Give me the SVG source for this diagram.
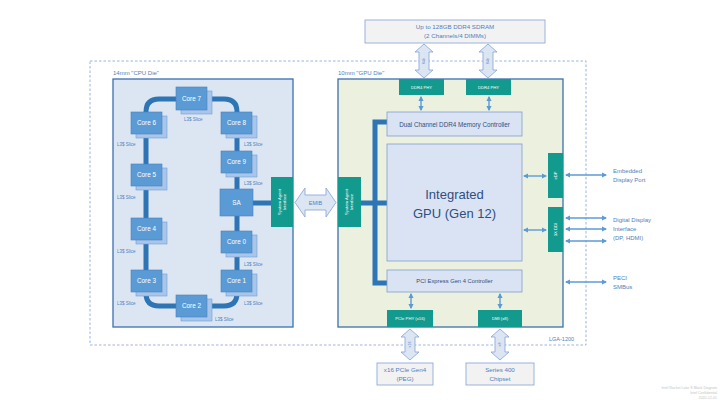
<svg xmlns="http://www.w3.org/2000/svg" width="721" height="406" viewBox="0 0 721 406">
<defs>
<style>
text{font-family:"Liberation Sans","Open Sans",sans-serif}
.lbl{fill:#4f81bd;font-size:6px}
.sl{fill:#4f81bd;font-size:4.5px}
.core{fill:#5b9bd5;stroke:#4a7fc0;stroke-width:0.6}
.shd{fill:#a9c6ea;stroke:#6f9dd6;stroke-width:0.6}
.ct{fill:#fff;font-size:6.3px;text-anchor:middle}
.teal{fill:#139a8e}
.tt{fill:#fff;font-size:4.2px;text-anchor:middle}
.ctl{fill:#dae3f3;stroke:#7f9fcf;stroke-width:0.8}
.ctt{fill:#2f4f7f;font-size:6.3px;text-anchor:middle}
.big{fill:#2f4f7f;font-size:13px;text-anchor:middle}
.ext{fill:#f2f2f2;stroke:#8eaadb;stroke-width:0.9}
.et{fill:#4f81bd;font-size:6.2px;text-anchor:middle}
.hol{fill:#dce6f2;stroke:#8eaadb;stroke-width:0.9}
.ht{fill:#4f81bd;font-size:3.6px;text-anchor:middle}
.wm{fill:#c4c4c4;font-size:3.6px;text-anchor:end}
.ring{fill:none;stroke:#2e75b6;stroke-width:5}
.lk{fill:none;stroke:#5b9bd5;stroke-width:1.4;marker-start:url(#ah);marker-end:url(#ah)}
</style>
<marker id="ah" viewBox="0 0 10 10" refX="8" refY="5" markerWidth="4" markerHeight="4" orient="auto-start-reverse"><path d="M0,0 L10,5 L0,10 z" fill="#5b9bd5"/></marker>
</defs>
<rect width="721" height="406" fill="#fff"/>

<!-- package outline -->
<g id="package">
<rect x="90" y="61" width="496" height="284" fill="none" stroke="#8eaadb" stroke-width="0.9" stroke-dasharray="2.5,2"/>
<text x="549" y="341" class="lbl" style="font-size:5.5px">LGA-1200</text>
</g>

<!-- external memory -->
<g id="dram">
<rect x="365" y="20" width="180" height="23" class="ext"/>
<text x="455" y="29" class="et">Up to 128GB DDR4 SDRAM</text>
<text x="455" y="38" class="et">(2 Channels/4 DIMMs)</text>
</g>

<!-- CPU die -->
<g id="cpu-die">
<text x="113" y="75" class="lbl">14mm "CPU Die"</text>
<rect x="113" y="79" width="180" height="248" fill="#dce6f2" stroke="#3a70b0" stroke-width="1.3"/>
</g>

<!-- GPU die -->
<g id="gpu-die">
<text x="338" y="75" class="lbl">10mm "GPU Die"</text>
<rect x="338" y="79" width="225" height="248" fill="#ebf1de" stroke="#3a70b0" stroke-width="1.3"/>
</g>

<!-- connectors -->
<g id="connectors">
<path class="ring" d="M146,125 L146,112 Q146,99 159,99 L224,99 Q237,99 237,112 L237,293 Q237,306 224,306 L159,306 Q146,306 146,293 Z"/>
<path class="ring" d="M253,203 L271,203"/>
<path class="ring" d="M387,122 L375,122 L375,283 L387,283 M361,203 L387,203"/>
<path class="lk" d="M421,97 L421,110"/>
<path class="lk" d="M489,97 L489,110"/>
<path class="lk" d="M411,294 L411,308"/>
<path class="lk" d="M500,294 L500,308"/>
<path class="lk" d="M524,176 L546,176"/>
<path class="lk" d="M524,230 L546,230"/>
<path class="lk" d="M566,175 L606,175"/>
<path class="lk" d="M566,218 L606,218"/>
<path class="lk" d="M566,229 L606,229"/>
<path class="lk" d="M566,241 L606,241"/>
<path class="lk" d="M566,282 L606,282"/>
<!-- hollow bus arrows -->
<path class="hol" d="M424,44 L433,52 L429,52 L429,70 L433,70 L424,78 L415,70 L419,70 L419,52 L415,52 Z"/>
<text transform="translate(425.3,61) rotate(-90)" class="ht">64b</text>
<path class="hol" d="M488,44 L497,52 L493,52 L493,70 L497,70 L488,78 L479,70 L483,70 L483,52 L479,52 Z"/>
<text transform="translate(489.3,61) rotate(-90)" class="ht">64b</text>
<path class="hol" d="M410,329 L419,337 L415,337 L415,352 L419,352 L410,360 L401,352 L405,352 L405,337 L401,337 Z"/>
<text transform="translate(411.3,344.5) rotate(-90)" class="ht">x16</text>
<path class="hol" d="M500,329 L509,337 L505,337 L505,352 L509,352 L500,360 L491,352 L495,352 L495,337 L491,337 Z"/>
<text transform="translate(501.3,344.5) rotate(-90)" class="ht">x8</text>
<path class="hol" d="M295,202.5 L305,188 L305,195 L326,195 L326,188 L336,202.5 L326,217 L326,210 L305,210 L305,217 Z"/>
<text x="315.5" y="204.5" class="et" style="font-size:5.5px">EMIB</text>
</g>

<!-- cores -->
<g id="core7"><rect x="181" y="91" width="31" height="23" class="shd"/><rect x="176" y="87" width="31" height="23" class="core"/><text x="191.5" y="100.5" class="ct">Core 7</text><text x="184" y="121" class="sl">L3$ Slice</text></g>
<g id="core6"><rect x="136" y="116" width="31" height="22" class="shd"/><rect x="131" y="112" width="31" height="22" class="core"/><text x="146.5" y="125" class="ct">Core 6</text><text x="117" y="146" class="sl">L3$ Slice</text></g>
<g id="core8"><rect x="226" y="116" width="31" height="22" class="shd"/><rect x="221" y="112" width="31" height="22" class="core"/><text x="236.5" y="125" class="ct">Core 8</text><text x="244" y="146" class="sl">L3$ Slice</text></g>
<g id="core9"><rect x="226" y="155" width="31" height="22" class="shd"/><rect x="221" y="151" width="31" height="22" class="core"/><text x="236.5" y="164" class="ct">Core 9</text><text x="244" y="185" class="sl">L3$ Slice</text></g>
<g id="sa"><rect x="220" y="189" width="33" height="27" class="core"/><text x="236.5" y="204.5" class="ct">SA</text></g>
<g id="core0"><rect x="226" y="235" width="31" height="22" class="shd"/><rect x="221" y="231" width="31" height="22" class="core"/><text x="236.5" y="244" class="ct">Core 0</text><text x="244" y="266" class="sl">L3$ Slice</text></g>
<g id="core1"><rect x="226" y="274" width="31" height="22" class="shd"/><rect x="221" y="270" width="31" height="22" class="core"/><text x="236.5" y="283" class="ct">Core 1</text><text x="244" y="305" class="sl">L3$ Slice</text></g>
<g id="core2"><rect x="181" y="299" width="31" height="22" class="shd"/><rect x="176" y="295" width="31" height="22" class="core"/><text x="191.5" y="308" class="ct">Core 2</text><text x="215" y="321" class="sl">L3$ Slice</text></g>
<g id="core3"><rect x="136" y="274" width="31" height="22" class="shd"/><rect x="131" y="270" width="31" height="22" class="core"/><text x="146.5" y="283" class="ct">Core 3</text><text x="117" y="305" class="sl">L3$ Slice</text></g>
<g id="core4"><rect x="136" y="222" width="31" height="22" class="shd"/><rect x="131" y="218" width="31" height="22" class="core"/><text x="146.5" y="231" class="ct">Core 4</text><text x="117" y="253" class="sl">L3$ Slice</text></g>
<g id="core5"><rect x="136" y="168" width="31" height="22" class="shd"/><rect x="131" y="164" width="31" height="22" class="core"/><text x="146.5" y="177" class="ct">Core 5</text><text x="117" y="199" class="sl">L3$ Slice</text></g>

<!-- system agent interfaces -->
<g id="cpu-sai"><rect x="271" y="177" width="22" height="50" class="teal"/><text transform="translate(281,202) rotate(-90)" class="tt"><tspan x="0" dy="-0.5">System Agent</tspan><tspan x="0" dy="5">Interface</tspan></text></g>
<g id="gpu-sai"><rect x="338" y="177" width="23" height="50" class="teal"/><text transform="translate(348.5,202) rotate(-90)" class="tt"><tspan x="0" dy="-0.5">System Agent</tspan><tspan x="0" dy="5">Interface</tspan></text></g>

<!-- GPU die blocks -->
<g id="ddr4phy0"><rect x="399" y="79" width="45" height="16" class="teal"/><text x="421.5" y="88.5" class="tt">DDR4 PHY</text></g>
<g id="ddr4phy1"><rect x="466" y="79" width="45" height="16" class="teal"/><text x="488.5" y="88.5" class="tt">DDR4 PHY</text></g>
<g id="memctl"><rect x="387" y="112" width="135" height="24" class="ctl"/><text x="454.5" y="126.5" class="ctt">Dual Channel DDR4 Memory Controller</text></g>
<g id="igpu"><rect x="387" y="144" width="135" height="117" class="ctl"/><text x="454.5" y="199" class="big">Integrated</text><text x="454.5" y="218" class="big">GPU (Gen 12)</text></g>
<g id="pcictl"><rect x="387" y="270" width="135" height="22" class="ctl"/><text x="454.5" y="283" class="ctt" style="font-size:5.8px">PCI Express Gen 4 Controller</text></g>
<g id="pciephy"><rect x="387" y="310" width="46" height="17" class="teal"/><text x="410" y="320" class="tt">PCIe PHY (x16)</text></g>
<g id="dmi"><rect x="478" y="310" width="44" height="17" class="teal"/><text x="500" y="320" class="tt">DMI (x8)</text></g>
<g id="edp"><rect x="548" y="153" width="15" height="45" class="teal"/><text transform="translate(557,175.5) rotate(-90)" class="tt">eDP</text></g>
<g id="ddi"><rect x="548" y="207" width="15" height="45" class="teal"/><text transform="translate(557,229.5) rotate(-90)" class="tt">3X DDI</text></g>

<!-- external interfaces -->
<g id="edp-ext"><text x="613" y="173" class="lbl">Embedded</text><text x="613" y="182" class="lbl">Display Port</text></g>
<g id="ddi-ext"><text x="613" y="222" class="lbl">Digital Display</text><text x="613" y="231" class="lbl">Interface</text><text x="613" y="240" class="lbl">(DP, HDMI)</text></g>
<g id="peci-ext"><text x="613" y="280" class="lbl">PECI</text><text x="613" y="289" class="lbl">SMBus</text></g>
<g id="peg"><rect x="377" y="363" width="56" height="22" class="ext"/><text x="405" y="372" class="et">x16 PCIe Gen4</text><text x="405" y="381" class="et">(PEG)</text></g>
<g id="chipset"><rect x="466" y="363" width="68" height="22" class="ext"/><text x="500" y="372" class="et">Series 400</text><text x="500" y="381" class="et">Chipset</text></g>

<!-- footnote -->
<g id="footnote"><text x="717" y="389" class="wm">Intel Rocket Lake S Block Diagram</text><text x="717" y="394" class="wm">Intel Confidential</text><text x="717" y="399" class="wm">2020-12-01</text></g>
</svg>
